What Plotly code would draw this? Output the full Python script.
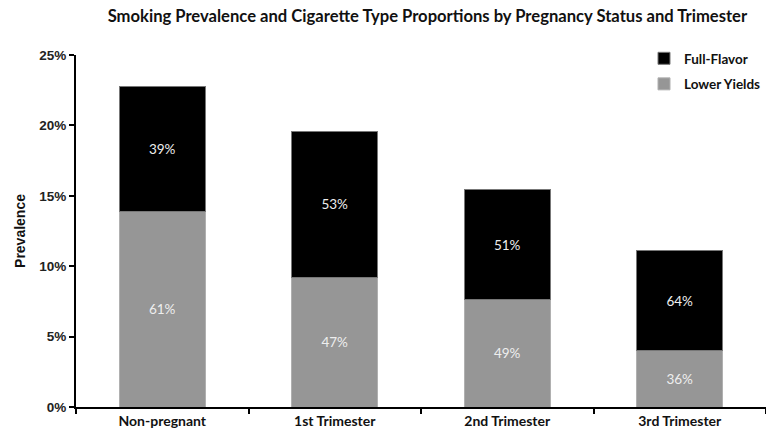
import plotly.graph_objects as go

categories = ["Non-pregnant", "1st Trimester", "2nd Trimester", "3rd Trimester"]
lower_yields = [13.9, 9.2, 7.6, 4.0]
full_flavor = [8.85, 10.4, 7.85, 7.1]
lower_share = ["61%", "47%", "49%", "36%"]
full_share = ["39%", "53%", "51%", "64%"]
y_ticks = [0, 5, 10, 15, 20, 25]

CAL = "Lato, Carlito, Calibri, sans-serif"

fig = go.Figure()
fig.add_trace(go.Bar(
    x=categories, y=lower_yields, name="<b>Lower Yields</b>", legendgroup="g1", legendrank=2,
    marker=dict(color="#969696", line=dict(color="#b0b0b0", width=1)),
    text=lower_share, textposition="inside", insidetextanchor="middle",
    textfont=dict(color="#eeeeee", size=13.5, family=CAL),
))
fig.add_trace(go.Bar(
    x=categories, y=full_flavor, name="<b>Full-Flavor</b>", legendgroup="g2", legendrank=1,
    marker=dict(color="#000000", line=dict(color="#777777", width=1)),
    text=full_share, textposition="inside", insidetextanchor="middle",
    textfont=dict(color="#eeeeee", size=13.5, family=CAL),
))

fig.update_layout(
    barmode="stack",
    bargap=0.5,
    width=766, height=438,
    margin=dict(l=76, r=0, t=55, b=31),
    paper_bgcolor="white", plot_bgcolor="white",
    uniformtext=dict(minsize=8, mode="show"),
    title=dict(
        text="<b>Smoking Prevalence and Cigarette Type Proportions by Pregnancy Status and Trimester</b>",
        x=0.558, xanchor="center", y=0.962, yanchor="middle",
        font=dict(family=CAL, size=16.6, color="#111111"),
    ),
    legend=dict(
        x=1.0, xanchor="right", y=1.034, yanchor="top",
        traceorder="grouped",
        font=dict(family=CAL, size=13.5, color="#111111"),
        itemwidth=30, tracegroupgap=5,
        bgcolor="rgba(0,0,0,0)",
    ),
    showlegend=True,
)

fig.update_yaxes(
    range=[0, 25], tickvals=y_ticks, ticktext=[f"<b>{v}%</b>" for v in y_ticks],
    showgrid=False, zeroline=False,
    showline=True, linecolor="#000000", linewidth=2,
    ticks="outside", ticklen=5, tickwidth=2, tickcolor="#000000",
    tickfont=dict(family="Liberation Sans, Arial", size=13.5, color="#222222"),
    title=dict(text="<b>Prevalence</b>", font=dict(family="Liberation Sans, Arial", size=14, color="#111111"), standoff=10),
)
fig.update_xaxes(
    showgrid=False, showline=True, linecolor="#000000", linewidth=2,
    ticks="outside", tickson="boundaries", ticklen=5, tickwidth=2, tickcolor="#000000",
    tickfont=dict(family=CAL, size=14, color="#111111"),
    ticktext=[f"<b>{c}</b>" for c in categories], tickvals=categories,
)

fig.write_html("out.html")
